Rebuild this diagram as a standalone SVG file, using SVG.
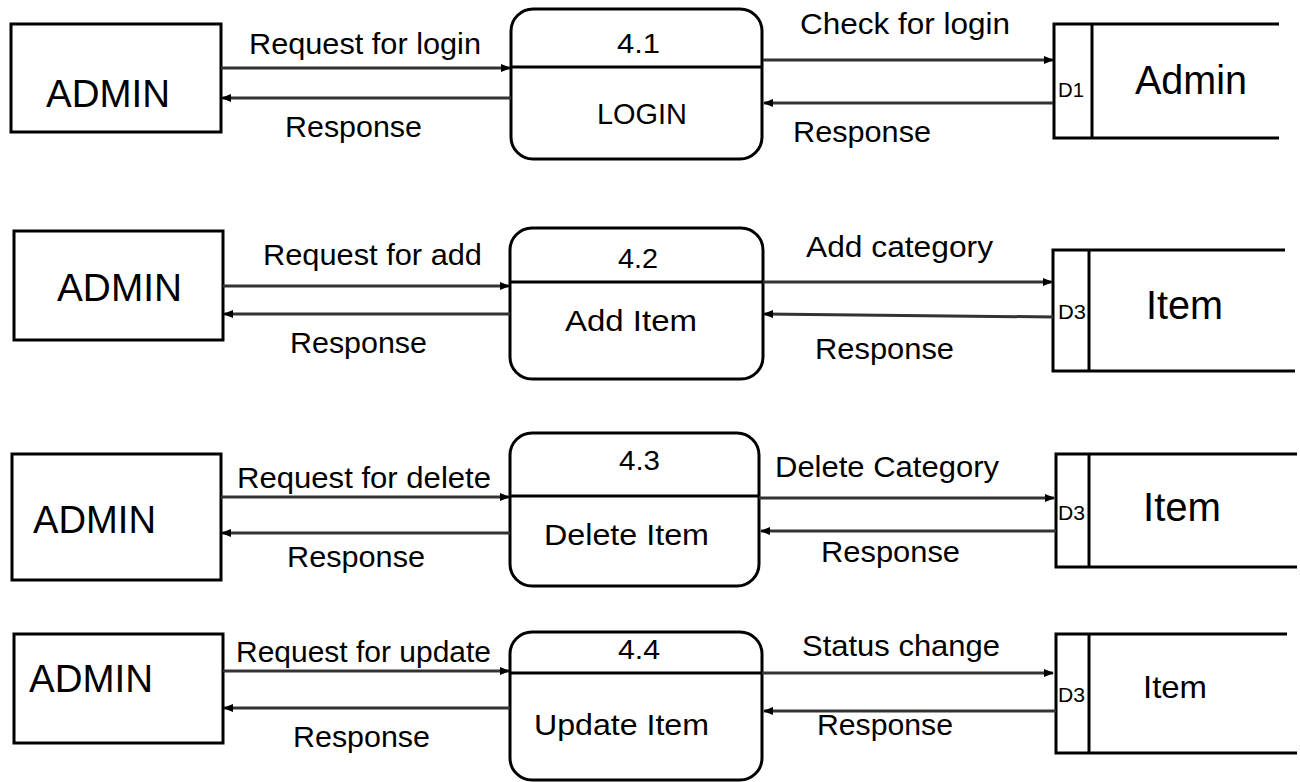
<svg xmlns="http://www.w3.org/2000/svg" width="1300" height="782" viewBox="0 0 1300 782">
<style>
.box{fill:#fff;stroke:#000;stroke-width:3}
.ln{fill:none;stroke:#000;stroke-width:3}
.con{fill:none;stroke:#333;stroke-width:3;marker-end:url(#ah)}
text{font-family:"Liberation Sans",Arial,sans-serif;fill:#000;lengthAdjust:spacingAndGlyphs}
.ent{font-size:38px}
.lbl{font-size:30px}
.num{font-size:28px}
.pn{font-size:30px}
.dsid{font-size:20px}
.ds{font-size:40px}
</style>
<defs>
<marker id="ah" markerUnits="userSpaceOnUse" markerWidth="10" markerHeight="8" refX="9" refY="4" orient="auto">
<path d="M0,0 L10,4 L0,8 z" fill="#000"/>
</marker>
</defs>
<rect width="1300" height="782" fill="#fff"/>

<!-- Row 1 -->
<g id="admin1"><rect class="box" x="11" y="24" width="210" height="108"/><text class="ent" x="46" y="107" textLength="124" lengthAdjust="spacingAndGlyphs">ADMIN</text></g>
<g id="p41"><rect class="box" x="511" y="9" width="251" height="150" rx="22"/><line class="ln" x1="511" y1="67" x2="762" y2="67"/><text class="num" x="617" y="53" textLength="43" lengthAdjust="spacingAndGlyphs">4.1</text><text class="pn" x="597" y="124" textLength="90" lengthAdjust="spacingAndGlyphs">LOGIN</text></g>
<g id="d1"><path class="ln" d="M1279,24 H1054 V138 H1279"/><line class="ln" x1="1092" y1="24" x2="1092" y2="138"/><text class="dsid" x="1058" y="97" textLength="26" lengthAdjust="spacingAndGlyphs">D1</text><text class="ds" x="1135" y="94" textLength="112" lengthAdjust="spacingAndGlyphs">Admin</text></g>

<!-- Row 2 -->
<g id="admin2"><rect class="box" x="14" y="231" width="209" height="109"/><text class="ent" x="57" y="301" textLength="125" lengthAdjust="spacingAndGlyphs">ADMIN</text></g>
<g id="p42"><rect class="box" x="510" y="228" width="253" height="151" rx="22"/><line class="ln" x1="510" y1="282" x2="763" y2="282"/><text class="num" x="618" y="268" textLength="40" lengthAdjust="spacingAndGlyphs">4.2</text><text class="pn" x="565" y="331" textLength="132" lengthAdjust="spacingAndGlyphs">Add Item</text></g>
<g id="d3a"><path class="ln" d="M1285,250 H1053 V371 H1295"/><line class="ln" x1="1089" y1="250" x2="1089" y2="371"/><text class="dsid" x="1058" y="319" textLength="28" lengthAdjust="spacingAndGlyphs">D3</text><text class="ds" x="1146" y="319" textLength="77" lengthAdjust="spacingAndGlyphs">Item</text></g>

<!-- Row 3 -->
<g id="admin3"><rect class="box" x="12" y="454" width="209" height="126"/><text class="ent" x="33" y="533" textLength="123" lengthAdjust="spacingAndGlyphs">ADMIN</text></g>
<g id="p43"><rect class="box" x="510" y="433" width="249" height="153" rx="22"/><line class="ln" x1="510" y1="496" x2="759" y2="496"/><text class="num" x="619" y="470" textLength="41" lengthAdjust="spacingAndGlyphs">4.3</text><text class="pn" x="544" y="545" textLength="165" lengthAdjust="spacingAndGlyphs">Delete Item</text></g>
<g id="d3b"><path class="ln" d="M1297,454 H1056 V567 H1297"/><line class="ln" x1="1089" y1="454" x2="1089" y2="567"/><text class="dsid" x="1058" y="520" textLength="27" lengthAdjust="spacingAndGlyphs">D3</text><text class="ds" x="1143" y="521" textLength="78" lengthAdjust="spacingAndGlyphs">Item</text></g>

<!-- Row 4 -->
<g id="admin4"><rect class="box" x="14" y="634" width="209" height="109"/><text class="ent" x="29" y="692" textLength="124" lengthAdjust="spacingAndGlyphs">ADMIN</text></g>
<g id="p44"><rect class="box" x="510" y="632" width="252" height="148" rx="22"/><line class="ln" x1="510" y1="673" x2="762" y2="673"/><text class="num" x="618" y="659" textLength="42" lengthAdjust="spacingAndGlyphs">4.4</text><text class="pn" x="534" y="735" textLength="175" lengthAdjust="spacingAndGlyphs">Update Item</text></g>
<g id="d3c"><path class="ln" d="M1287,634 H1056 V753 H1297"/><line class="ln" x1="1089" y1="634" x2="1089" y2="753"/><text class="dsid" x="1058" y="702" textLength="27" lengthAdjust="spacingAndGlyphs">D3</text><text style="font-size:32px" x="1143" y="698" textLength="64" lengthAdjust="spacingAndGlyphs">Item</text></g>

<g id="connectors">
<path class="con" d="M221,68 H510"/>
<path class="con" d="M511,98 H222"/>
<path class="con" d="M763,60 H1053"/>
<path class="con" d="M1053,103 H764"/>
<path class="con" d="M223,286 H509"/>
<path class="con" d="M510,314 H224"/>
<path class="con" d="M763,282 H1052"/>
<path class="con" d="M1053,317 L764,314"/>
<path class="con" d="M221,497 H509"/>
<path class="con" d="M510,533 H222"/>
<path class="con" d="M759,498 H1054"/>
<path class="con" d="M1056,531 H761"/>
<path class="con" d="M223,671 H509"/>
<path class="con" d="M510,708 H224"/>
<path class="con" d="M762,673 H1053"/>
<path class="con" d="M1056,711 H764"/>
<g class="labels">
<text class="lbl" x="249" y="54" textLength="232" lengthAdjust="spacingAndGlyphs">Request for login</text>
<text class="lbl" x="285" y="137" textLength="137" lengthAdjust="spacingAndGlyphs">Response</text>
<text class="lbl" x="800" y="34" textLength="210" lengthAdjust="spacingAndGlyphs">Check for login</text>
<text class="lbl" x="793" y="142" textLength="138" lengthAdjust="spacingAndGlyphs">Response</text>
<text class="lbl" x="263" y="265" textLength="219" lengthAdjust="spacingAndGlyphs">Request for add</text>
<text class="lbl" x="290" y="353" textLength="137" lengthAdjust="spacingAndGlyphs">Response</text>
<text class="lbl" x="806" y="257" textLength="187" lengthAdjust="spacingAndGlyphs">Add category</text>
<text class="lbl" x="815" y="359" textLength="139" lengthAdjust="spacingAndGlyphs">Response</text>
<text class="lbl" x="237" y="488" textLength="254" lengthAdjust="spacingAndGlyphs">Request for delete</text>
<text class="lbl" x="287" y="567" textLength="138" lengthAdjust="spacingAndGlyphs">Response</text>
<text class="lbl" x="775" y="477" textLength="224" lengthAdjust="spacingAndGlyphs">Delete Category</text>
<text class="lbl" x="821" y="562" textLength="139" lengthAdjust="spacingAndGlyphs">Response</text>
<text class="lbl" x="236" y="662" textLength="255" lengthAdjust="spacingAndGlyphs">Request for update</text>
<text class="lbl" x="293" y="747" textLength="137" lengthAdjust="spacingAndGlyphs">Response</text>
<text class="lbl" x="802" y="656" textLength="198" lengthAdjust="spacingAndGlyphs">Status change</text>
<text class="lbl" x="817" y="735" textLength="136" lengthAdjust="spacingAndGlyphs">Response</text>
</g>
</g>
</svg>
